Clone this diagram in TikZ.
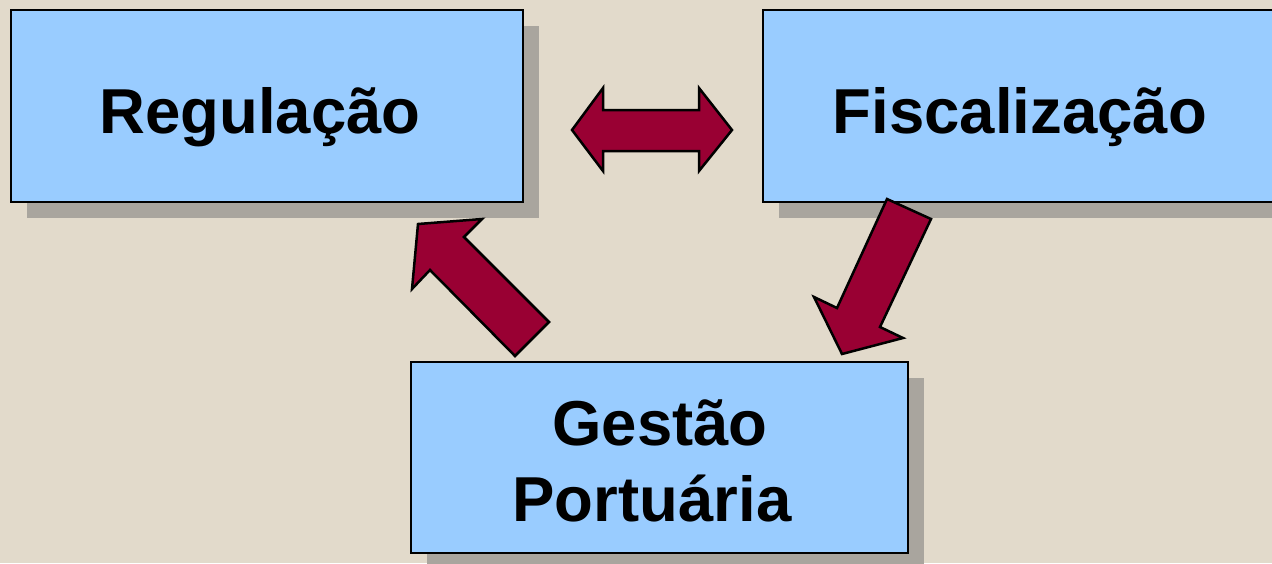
\documentclass[tikz,border=0pt]{standalone}
\usepackage{fontspec}
\setmainfont{Liberation Sans}
\definecolor{bg}{HTML}{E2DACB}
\definecolor{boxblue}{HTML}{99CCFF}
\definecolor{shadowgray}{HTML}{A9A59E}
\definecolor{arrowred}{HTML}{990033}
\tikzset{
  bigbox/.style={draw=black, line width=2.2pt, fill=boxblue},
  shadowbox/.style={fill=shadowgray, draw=none},
  blockarrow/.style={draw=black, line width=2.5pt, fill=arrowred, line join=miter},
  label/.style={font=\fontsize{63.5}{76}\selectfont\bfseries, anchor=base, inner sep=0pt}
}
\begin{document}
\begin{tikzpicture}[x=1pt,y=-1pt]
\useasboundingbox (0,0) rectangle (1272,563);
\fill[bg] (0,0) rectangle (1272,563);
% shadows
\fill[shadowgray] (27,26) rectangle (539,218);
\fill[shadowgray] (779,26) rectangle (1291,218);
\fill[shadowgray] (427,378) rectangle (924,569);
% boxes
\draw[bigbox] (11,10) rectangle (523,202);
\draw[bigbox] (763,10) rectangle (1275,202);
\draw[bigbox] (411,362) rectangle (908,553);
% texts
\node[label] (reg) at (260,133) {Regulação};
\node[label] (fis) at (1020,133) {Fiscalização};
\node[label] (ges) at (660,445) {Gestão};
\node[label] (por) at (652,521) {Portuária};
% arrows
\draw[blockarrow] (572,130) -- (603,88) -- (603,110) -- (699,110) -- (699,88) -- (732,130) -- (699,171) -- (699,151) -- (603,151) -- (603,171) -- cycle;
\draw[blockarrow] (418,224) -- (482,219) -- (464,237) -- (549,322) -- (515,356) -- (430,270) -- (412,289) -- cycle;
\draw[blockarrow] (887,199) -- (931,219) -- (880,327) -- (903,338) -- (842,354) -- (814,297) -- (837,308) -- cycle;
\end{tikzpicture}
\end{document}
